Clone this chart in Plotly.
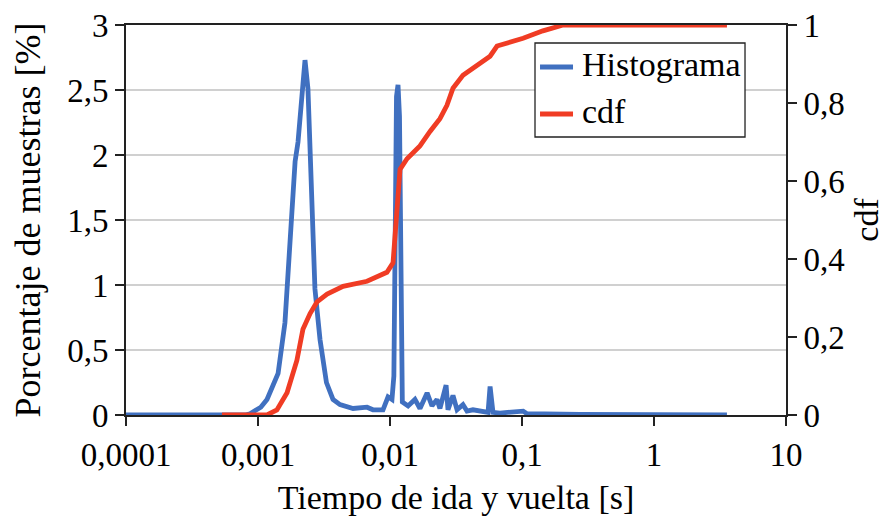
import plotly.graph_objects as go

# Round-trip time histogram (% of samples) on a log time axis
hist_t = [0.0001, 0.0008, 0.00087, 0.00105, 0.00117, 0.00142, 0.0016, 0.00175,
          0.00191, 0.00201, 0.00215, 0.00227, 0.00239, 0.00257, 0.0027, 0.00295,
          0.0031, 0.0033, 0.0037, 0.00418, 0.00525, 0.0067, 0.00743, 0.00885,
          0.00966, 0.01035, 0.0107, 0.0112, 0.0115, 0.0118, 0.0124, 0.0137,
          0.01545, 0.01687, 0.0191, 0.0208, 0.0227, 0.0239, 0.0266, 0.0275,
          0.03, 0.0322, 0.0357, 0.0383, 0.0425, 0.0507, 0.0553, 0.0573,
          0.0603, 0.0681, 0.102, 0.109, 0.137, 0.275, 3.57]
hist_pct = [0.0, 0.0, 0.01, 0.06, 0.12, 0.32, 0.71, 1.35,
            1.95, 2.1, 2.51, 2.73, 2.51, 1.48, 0.97, 0.58,
            0.43, 0.25, 0.12, 0.08, 0.05, 0.06, 0.04, 0.04,
            0.14, 0.12, 0.3, 2.45, 2.54, 2.3, 0.1, 0.07,
            0.12, 0.05, 0.17, 0.07, 0.12, 0.05, 0.23, 0.04,
            0.15, 0.04, 0.08, 0.03, 0.04, 0.03, 0.02, 0.22,
            0.02, 0.015, 0.03, 0.01, 0.01, 0.005, 0.0]

# Cumulative distribution function
cdf_t = [0.000533, 0.00117, 0.00139, 0.00166, 0.00197, 0.00219, 0.00248,
         0.0028, 0.00334, 0.00441, 0.0067, 0.00948, 0.01054, 0.0113,
         0.01191, 0.01346, 0.01686, 0.0201, 0.0239, 0.027, 0.03, 0.0357,
         0.0481, 0.0573, 0.0647, 0.102, 0.144, 0.205, 3.57]
cdf_val = [0.0, 0.0, 0.013, 0.057, 0.14, 0.22, 0.26,
           0.29, 0.31, 0.33, 0.343, 0.366, 0.39, 0.53,
           0.63, 0.657, 0.69, 0.727, 0.76, 0.794, 0.838, 0.871,
           0.902, 0.92, 0.946, 0.966, 0.985, 1.0, 1.0]

x_ticks = [0.0001, 0.001, 0.01, 0.1, 1, 10]
x_tick_text = ["0,0001", "0,001", "0,01", "0,1", "1", "10"]
left_ticks = [0, 0.5, 1, 1.5, 2, 2.5, 3]
left_tick_text = ["0", "0,5", "1", "1,5", "2", "2,5", "3"]
right_ticks = [0, 0.2, 0.4, 0.6, 0.8, 1]
right_tick_text = ["0", "0,2", "0,4", "0,6", "0,8", "1"]
series_names = ["Histograma", "cdf"]

BLUE = "#4070c0"
RED = "#f03c24"
SERIF = '"Times New Roman", "Liberation Serif", Times, serif'
AXIS = "#222"

fig = go.Figure()
fig.add_trace(go.Scatter(x=hist_t, y=hist_pct, mode="lines", name=series_names[0],
                         line=dict(color=BLUE, width=4.8), yaxis="y"))
fig.add_trace(go.Scatter(x=cdf_t, y=cdf_val, mode="lines", name=series_names[1],
                         line=dict(color=RED, width=4.8), yaxis="y2"))

# Boxed legend drawn in paper coordinates
box = dict(x0=0.6197, x1=0.9379, y0=0.7128, y1=0.9538)
rows = [(0.8923, BLUE), (0.7718, RED)]
shapes = [dict(type="rect", xref="paper", yref="paper", layer="above",
               fillcolor="white", line=dict(color=AXIS, width=1.3), **box)]
annotations = []
for (ly, col), name in zip(rows, series_names):
    shapes.append(dict(type="line", xref="paper", yref="paper", layer="above",
                       x0=0.6273, x1=0.6773, y0=ly, y1=ly,
                       line=dict(color=col, width=4.8)))
    annotations.append(dict(xref="paper", yref="paper", x=0.688, y=ly + 0.006,
                            xanchor="left", yanchor="middle", showarrow=False,
                            text=name, font=dict(family=SERIF, size=34, color="black")))

fig.update_layout(
    width=890, height=516,
    margin=dict(l=126, r=104, t=25, b=101, autoexpand=False),
    paper_bgcolor="white", plot_bgcolor="white",
    font=dict(family=SERIF, size=33, color="black"),
    showlegend=False,
    shapes=shapes,
    annotations=annotations,
    xaxis=dict(type="log", range=[-4, 1], tickvals=x_ticks, ticktext=x_tick_text,
               tickfont=dict(family=SERIF, size=33), automargin=False,
               showline=True, linecolor=AXIS, linewidth=2, mirror=True,
               ticks="outside", ticklen=9, tickwidth=2, tickcolor=AXIS,
               showgrid=False, zeroline=False,
               title=dict(text="Tiempo de ida y vuelta [s]",
                          font=dict(family=SERIF, size=34), standoff=14)),
    yaxis=dict(range=[0, 3], tickvals=left_ticks, ticktext=left_tick_text,
               tickfont=dict(family=SERIF, size=33), automargin=False,
               showline=True, linecolor=AXIS, linewidth=2,
               ticks="outside", ticklen=9, tickwidth=2, tickcolor=AXIS,
               showgrid=True, gridcolor="#d0d0d0", gridwidth=1.5, zeroline=False,
               title=dict(text="Porcentaje de muestras [%]",
                          font=dict(family=SERIF, size=36), standoff=16)),
    yaxis2=dict(range=[0, 1], tickvals=right_ticks, ticktext=right_tick_text,
                tickfont=dict(family=SERIF, size=33), automargin=False,
                overlaying="y", side="right",
                showline=True, linecolor=AXIS, linewidth=2,
                ticks="outside", ticklen=9, tickwidth=2, tickcolor=AXIS,
                showgrid=False, zeroline=False,
                title=dict(text="cdf", font=dict(family=SERIF, size=34), standoff=10)),
)

fig.write_html("out.html")
